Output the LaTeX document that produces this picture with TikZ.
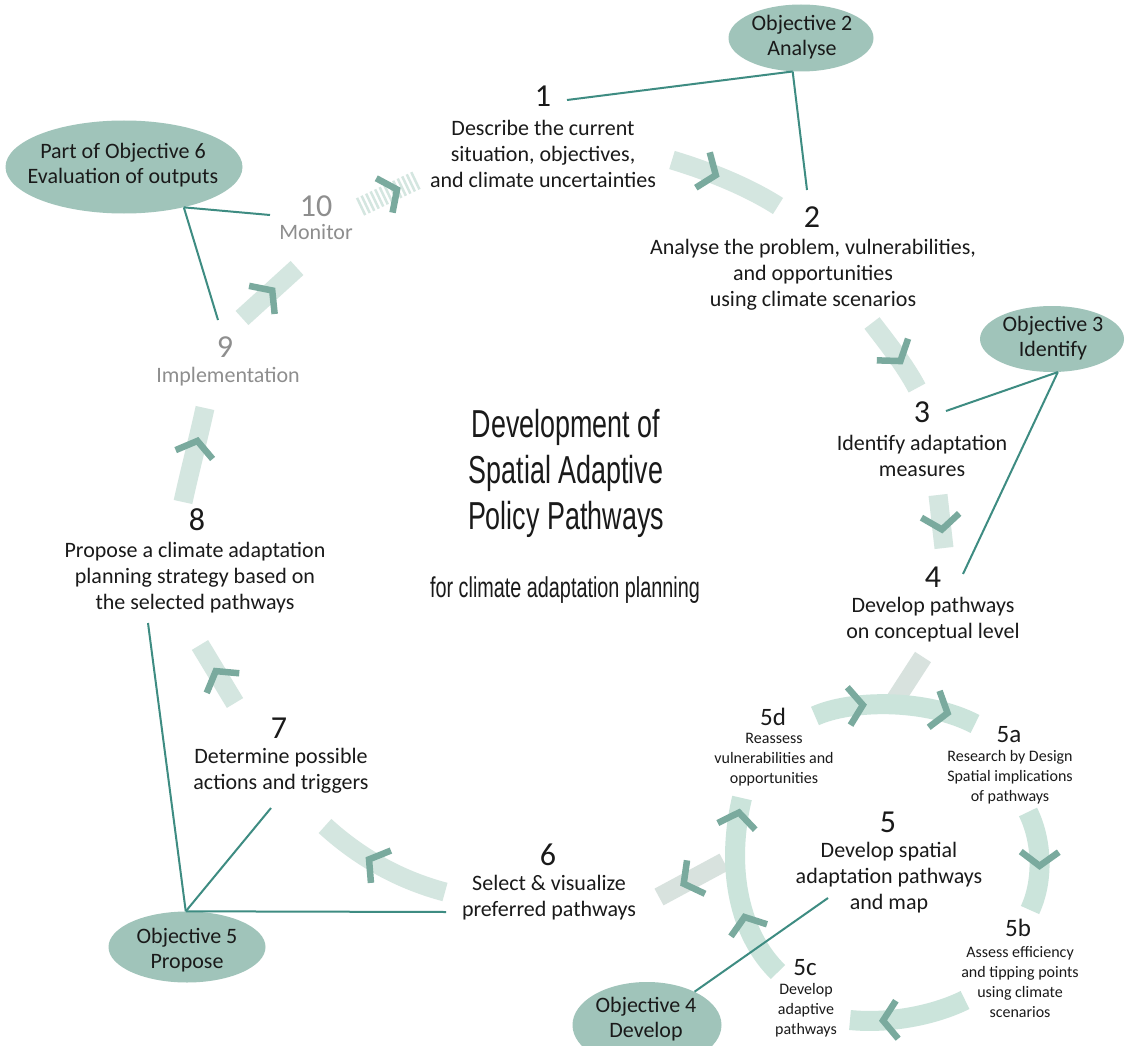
\documentclass[tikz,border=0pt]{standalone}
\usepackage{fontspec}
\setmainfont{Carlito}
\newfontfamily\titlefont[FakeStretch=0.69]{Liberation Sans}
\usetikzlibrary{shapes.geometric,decorations.markings,calc}
\definecolor{bandc}{HTML}{D4E6E0}
\definecolor{ringc}{HTML}{CBE4DB}
\definecolor{bandg}{HTML}{D8E2DE}
\definecolor{chevc}{HTML}{7AAA9E}
\definecolor{objc}{HTML}{A0C4BA}
\definecolor{linkc}{HTML}{3E8C82}
\definecolor{txt}{HTML}{1A1A1A}
\definecolor{gtxt}{HTML}{8E8E8E}
\tikzset{
  band/.style={draw=bandc, line width=19pt},
  ringband/.style={draw=ringc, line width=20pt},
  grayband/.style={draw=bandg, line width=19pt},
  chevmark/.style={postaction={decorate, decoration={markings,
     mark=at position #1 with {\draw[chevc, solid, line width=6.5pt] (-14,19) -- (0,0) -- (-14,-19);}}}},
  link/.style={draw=linkc, line width=2pt},
  objell/.style={ellipse, fill=objc, inner sep=0pt},
  objtxt/.style={align=center, inner sep=0pt, text=txt, font=\fontsize{22}{25}\selectfont},
  num/.style={inner sep=2pt, text=txt, font=\fontsize{32}{36}\selectfont},
  desc/.style={align=center, inner sep=0pt, text=txt, font=\fontsize{22}{26}\selectfont},
  snum/.style={inner sep=2pt, text=txt, font=\fontsize{25}{28}\selectfont},
  sdesc/.style={align=center, inner sep=0pt, text=txt, font=\fontsize{16}{20}\selectfont},
  gnum/.style={num, text=gtxt},
  gdesc/.style={desc, text=gtxt},
  ttl/.style={align=center, inner sep=0pt, text=txt, font=\titlefont\fontsize{39}{46}\selectfont},
  subttl/.style={inner sep=0pt, text=txt, font=\titlefont\fontsize{28.7}{32}\selectfont}
}
\begin{document}
\begin{tikzpicture}[x=1pt, y=-1pt]
\useasboundingbox[fill=white] (0,0) rectangle (1125,1046);

% ---- flow bands ----
\draw[band, dash pattern=on 2.5pt off 2.5pt, chevmark=0.65] (360,207) -- (417,180);
\draw[band, chevmark=0.55] (242,318) -- (297,268);
\draw[band, chevmark=0.65] (183,502) .. controls (190,470) and (198,440) .. (205,408);
\draw[band, chevmark=0.55] (235,703) -- (200,645);
\draw[band, chevmark=0.6] (445,892) .. controls (400,880) and (360,858) .. (325,826);
\draw[band, chevmark=0.4] (672,160) .. controls (705,170) and (745,185) .. (778,206);
\draw[band, chevmark=0.6] (872,323) .. controls (885,340) and (905,365) .. (917,388);
\draw[band, chevmark=0.65] (938,495) -- (944,548);
\draw[grayband] (923,657) -- (890,708);
\draw[grayband, chevmark=0.62] (724,862) -- (659,897);
% ring
\draw[ringband, chevmark=0.3, chevmark=0.82] (815,716) .. controls (850,700) and (925,698) .. (975,724);
\draw[ringband, chevmark=0.55] (1028,812) .. controls (1042,840) and (1044,880) .. (1030,910);
\draw[ringband, chevmark=0.72] (965,1000) .. controls (935,1015) and (890,1024) .. (850,1020);
\draw[ringband, chevmark=0.35, chevmark=0.92] (778,972) .. controls (740,935) and (725,870) .. (742,798);

% ---- objective ellipses ----
\node[objell, minimum width=145pt, minimum height=67pt] (o2) at (801,38) {};
\node[objtxt] (o2t) at (802,37) {Objective 2\\Analyse};
\node[objell, minimum width=237pt, minimum height=93pt] (o6) at (124,167) {};
\node[objtxt] (o6t) at (123,165) {Part of Objective 6\\Evaluation of outputs};
\node[objell, minimum width=144pt, minimum height=66pt] (o3) at (1052,339) {};
\node[objtxt] (o3t) at (1053,338) {Objective 3\\Identify};
\node[objell, minimum width=157pt, minimum height=71pt] (o5) at (187,947) {};
\node[objtxt] (o5t) at (187,950) {Objective 5\\Propose};
\node[objell, minimum width=149pt, minimum height=86pt] (o4) at (647,1025) {};
\node[objtxt] (o4t) at (646,1019) {Objective 4\\Develop};

% ---- connector ends ----
\coordinate (e1) at (567,100);
\coordinate (e2) at (807,190);
\coordinate (e10) at (270,215);
\coordinate (e9) at (218,320);
\coordinate (e3) at (946,411);
\coordinate (e4) at (963,574);
\coordinate (e8) at (148,623);
\coordinate (e7) at (271,808);
\coordinate (e6) at (446,912);
\coordinate (e5) at (828,898);

\draw[link] (o2.-104) -- (e1);
\draw[link] (o2.-104) -- (e2);
\draw[link] (o6.-34) -- (e10);
\draw[link] (o6.-34) -- (e9);
\draw[link] (o3.-80) -- (e3);
\draw[link] (o3.-80) -- (e4);
\draw[link] (o5.92) -- (e8);
\draw[link] (o5.92) -- (e7);
\draw[link] (o5.92) -- (e6);
\draw[link] (o4.35) -- (e5);

% ---- steps ----
\node[num] (n1) at (543,96) {1};
\node[desc] (d1) at (543,154) {Describe the current\\situation, objectives,\\and climate uncertainties};
\node[num] (n2) at (812,217) {2};
\node[desc] (d2) at (813,275) {Analyse the problem, vulnerabilities,\\and opportunities\\using climate scenarios};
\node[num] (n3) at (922,412) {3};
\node[desc] (d3) at (922,456) {Identify adaptation\\measures};
\node[num] (n4) at (933,577) {4};
\node[desc] (d4) at (933,620) {Develop pathways\\on conceptual level};
\node[snum] (n5d) at (773,717) {5d};
\node[sdesc] (d5d) at (774,760) {Reassess\\vulnerabilities and\\opportunities};
\node[snum] (n5a) at (1009,735) {5a};
\node[sdesc] (d5a) at (1010,777) {Research by Design\\Spatial implications\\of pathways};
\node[num] (n5) at (888,822) {5};
\node[desc] (d5) at (889,878) {Develop spatial\\adaptation pathways\\and map};
\node[snum] (n5b) at (1018,928) {5b};
\node[sdesc] (d5b) at (1020,982) {Assess efficiency\\and tipping points\\using climate\\scenarios};
\node[snum] (n5c) at (805,968) {5c};
\node[sdesc] (d5c) at (806,1010) {Develop\\adaptive\\pathways};
\node[num] (n6) at (548,855) {6};
\node[desc] (d6) at (549,898) {Select \& visualize\\preferred pathways};
\node[num] (n7) at (279,728) {7};
\node[desc] (d7) at (281,771) {Determine possible\\actions and triggers};
\node[num] (n8) at (197,520) {8};
\node[desc] (d8) at (195,578) {Propose a climate adaptation\\planning strategy based on\\the selected pathways};
\node[gnum] (n9) at (225,347) {9};
\node[gdesc] (d9) at (228,377) {Implementation};
\node[gnum] (n10) at (316,206) {10};
\node[gdesc] (d10) at (316,232) {Monitor};

% ---- title ----
\node[ttl] (title) at (566,473) {Development of\\Spatial Adaptive\\Policy Pathways};
\node[subttl] (subtitle) at (565,590) {for climate adaptation planning};
\end{tikzpicture}
\end{document}
